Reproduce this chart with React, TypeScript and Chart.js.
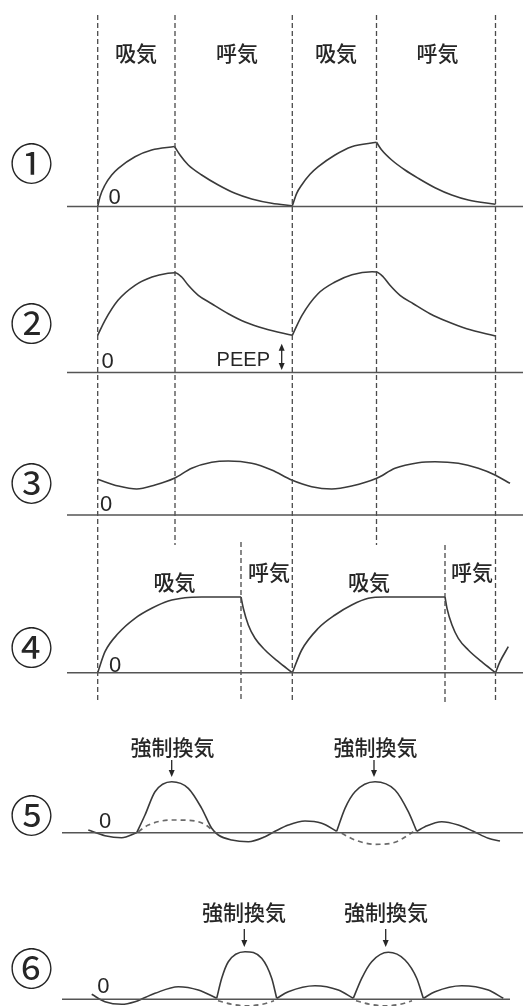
import React, { useEffect, useRef } from 'react';
import { Chart, registerables } from 'chart.js';

Chart.register(...registerables);

const W = 523;
const H = 1006;

// zero level of each trace (panel baseline)
const baseLevels = [206.5, 372.5, 515, 672.7, 832.7, 999.3];
const baseSpans = [
  [67, 523],
  [67, 523],
  [67, 523],
  [67, 523],
  [62, 523],
  [62, 510],
];

// ---- Panel 1 : volume-controlled, no PEEP ----
const p1Rise1T = [97.7, 100, 105, 111.7, 118.3, 135, 151.7, 174.5];
const p1Rise1V = [0, 9.8, 21.5, 31.5, 38.2, 49.8, 56.5, 60];
const p1Fall1T = [174.5, 180, 188.3, 201.7, 218.3, 235, 251.7, 271.7, 292.3];
const p1Fall1V = [60, 51.5, 41.5, 31.5, 21.5, 13.2, 7.5, 3.2, 0.8];
const p1Rise2T = [292.3, 296.7, 301.7, 310, 318.3, 335, 351.7, 376.5];
const p1Rise2V = [0.8, 13.2, 21.5, 32.2, 39.8, 51.5, 59.8, 64.2];
const p1Fall2T = [376.5, 381.7, 391.7, 405, 418.3, 435, 451.7, 468.3, 495.5];
const p1Fall2V = [64.2, 56.5, 46.5, 36.5, 28.2, 18.8, 11.5, 6.5, 2.2];

// ---- Panel 2 : with PEEP ----
const p2Cyc1T = [97.7, 105, 118, 135, 152, 168, 175, 181.7, 188.3, 198.3, 211.7, 228.3, 245, 265, 292.3];
const p2Cyc1V = [37.2, 52.2, 72.2, 87.2, 95.5, 99.3, 99.8, 95.5, 87.2, 77.2, 68.8, 58.8, 50.5, 43.8, 37.2];
const p2Cyc2T = [292.3, 302, 318, 335, 352, 372, 376.7, 383.3, 390, 400, 413.3, 430, 446.7, 466.7, 495.5];
const p2Cyc2V = [37.2, 57.2, 78.8, 90.5, 97.8, 100.8, 100.5, 95.5, 87.2, 77.2, 68.8, 58.8, 51.2, 43.8, 36.5];

// ---- Panel 3 : CPAP-like wave ----
const p3T = [97.7, 118.3, 136.7, 155, 174.3, 191.7, 211.7, 228.3, 251.7, 271.7, 291.7, 311.7, 331.7, 351.7, 376.7, 395, 418.3, 435, 458.3, 478.3, 495, 510];
const p3V = [35.7, 29, 26, 30, 36.7, 46.7, 52.7, 54, 51.7, 45, 35, 28.3, 26, 29, 36.7, 46.7, 52.3, 53.3, 51.7, 46.7, 40, 31.7];

// ---- Panel 4 : inspiratory plateau ----
const p4Rise1T = [97.7, 105, 118.3, 135, 151.7, 168.3, 185, 201.7, 241];
const p4Rise1V = [0, 21, 39.4, 54.4, 64.4, 71.7, 75, 75.7, 75.7];
const p4Fall1T = [241, 243.3, 248.3, 255, 265, 278.3, 292.3];
const p4Fall1V = [75.7, 64.4, 47.7, 34.4, 22.7, 11, 0];
const p4Rise2T = [292.3, 301.7, 318.3, 335, 351.7, 368.3, 385, 445];
const p4Rise2V = [0, 22.7, 44.4, 57.7, 67.7, 74.4, 75.7, 75.7];
const p4Fall2T = [445, 447, 452, 458.3, 468.3, 481.6, 495.5];
const p4Fall2V = [75.7, 64.4, 47.7, 34.4, 22.7, 11, 0];
const p4Rise3T = [495.5, 500, 508.3];
const p4Rise3V = [0, 11, 26];

// ---- Panel 5 : IMV ----
const p5aT = [88.3, 105, 121.7, 136.7];
const p5aV = [2.7, -3, -5, 0];
const p5bT = [136.7, 145, 155, 171.7, 188.3, 201.7, 211.7, 218.3, 231.7, 248.3, 265, 275, 288.3, 305, 321.7, 336.7];
const p5bV = [0, 17.7, 41, 51, 44.4, 24.4, 4.4, -2.3, -7.3, -9, -4, 1.4, 7.7, 11.7, 9.4, 1.4];
const p5cT = [336.7, 345, 355, 375, 395, 408.3, 416.7];
const p5cV = [1.4, 24.4, 41, 51, 42.7, 21, 1.4];
const p5dT = [416.7, 425, 441.7, 458.3, 473.3, 488.3, 500];
const p5dV = [1.4, 6, 11, 7.7, 1.4, -5.6, -8.3];
const p5Dash1T = [138.3, 148.3, 171.7, 195, 208.3, 211.7];
const p5Dash1V = [1, 7.7, 12.7, 11.7, 6, 2.7];
const p5Dash2T = [341.7, 355, 375, 395, 408.3, 413.3];
const p5Dash2V = [-0.6, -7.3, -11.6, -9.6, -2.3, 1];

// ---- Panel 6 : SIMV ----
const p6aT = [91.7, 105, 121.7, 135, 143.3, 155, 178.3, 198.3, 216.7];
const p6aV = [5, -2.4, -5, -2.4, 1, 6, 12.6, 9.3, 1];
const p6bT = [216.7, 221.7, 228.3, 245, 261.7, 271.7, 276.7];
const p6bV = [1, 21, 37.6, 47.6, 41, 21, 1];
const p6cT = [276.7, 288.3, 315, 338.3, 353.3];
const p6cV = [1, 7.6, 13.6, 9.3, 1];
const p6dT = [353.3, 361.7, 371.7, 388.3, 405, 416.7, 423.3];
const p6dV = [1, 21, 37.6, 47, 39.3, 21, 1];
const p6eT = [423.3, 435, 461.7, 488.3, 503.3];
const p6eV = [1, 7.6, 13.6, 9.3, 1];
const p6Dash1T = [218, 232, 247, 262, 274];
const p6Dash1V = [-1.5, -5, -6.5, -5, -1.5];
const p6Dash2T = [356, 370, 385, 400, 412];
const p6Dash2V = [-1.5, -5, -6.5, -5, -1.5];

// vertical phase guides: time, top, bottom
const guideT = [97.7, 175, 292.3, 376.5, 495.5, 241, 445];
const guideTop = [15, 15, 15, 15, 15, 542, 545];
const guideBottom = [702, 545, 702, 545, 702, 702, 702];

// annotations
const phaseLabels = [
  { text: '吸気', x: 136, y: 53 },
  { text: '呼気', x: 237, y: 53 },
  { text: '吸気', x: 336, y: 53 },
  { text: '呼気', x: 437.5, y: 53 },
  { text: '吸気', x: 174.5, y: 582 },
  { text: '呼気', x: 269, y: 572 },
  { text: '吸気', x: 369, y: 582 },
  { text: '呼気', x: 472, y: 572 },
  { text: '強制換気', x: 172.5, y: 747.5 },
  { text: '強制換気', x: 375.5, y: 747.5 },
  { text: '強制換気', x: 244, y: 912 },
  { text: '強制換気', x: 386, y: 912 },
];
const downArrows = [
  { x: 171.7, y0: 760, y1: 777 },
  { x: 374, y0: 760, y1: 777 },
  { x: 244.3, y0: 929, y1: 947 },
  { x: 385.7, y0: 929, y1: 947 },
];
const panelNumbers = ['①', '②', '③', '④', '⑤', '⑥'];
const panelNumberY = [163.3, 324, 484, 648, 816, 969];
const zeroX = [114.7, 107.5, 106, 115, 105, 103.3];
const zeroY = [204.3, 368, 510.7, 671.7, 828.3, 993.3];

const LINE = '#3a3a3a';
const TEXT = '#262626';

function curve(t: number[], v: number[], panel: number, dashed = false) {
  return {
    data: t.map((x, i) => ({ x, y: baseLevels[panel] - v[i] })),
    borderColor: dashed ? '#6a6a6a' : LINE,
    borderWidth: dashed ? 1.7 : 1.6,
    borderDash: dashed ? [5, 4] : [],
    pointRadius: 0,
    cubicInterpolationMode: 'monotone' as const,
    fill: false,
  };
}

const annotationPlugin = {
  id: 'annotations',
  afterDatasetsDraw(chart: any) {
    const ctx = chart.ctx as CanvasRenderingContext2D;
    const xs = chart.scales.x;
    const ys = chart.scales.y;
    const px = (v: number) => xs.getPixelForValue(v);
    const py = (v: number) => ys.getPixelForValue(v);
    ctx.save();
    ctx.fillStyle = TEXT;
    ctx.textAlign = 'center';
    ctx.textBaseline = 'middle';
    ctx.font = '500 21px "Noto Sans CJK JP", sans-serif';
    phaseLabels.forEach((l) => ctx.fillText(l.text, px(l.x), py(l.y)));

    ctx.font = '43px "Noto Sans CJK JP", sans-serif';
    panelNumbers.forEach((n, i) => ctx.fillText(n, px(31.5), py(panelNumberY[i])));

    ctx.textBaseline = 'alphabetic';
    ctx.font = '22px "Liberation Sans", Arial, sans-serif';
    zeroX.forEach((x, i) => ctx.fillText('0', px(x), py(zeroY[i])));

    ctx.font = '20px "Liberation Sans", Arial, sans-serif';
    ctx.fillText('PEEP', px(243.3), py(366));

    // arrows
    ctx.strokeStyle = TEXT;
    ctx.lineWidth = 1.3;
    const head = (x: number, y: number, dir: number) => {
      ctx.beginPath();
      ctx.moveTo(x, y);
      ctx.lineTo(x - 3, y - dir * 7);
      ctx.lineTo(x + 3, y - dir * 7);
      ctx.closePath();
      ctx.fill();
    };
    downArrows.forEach((a) => {
      ctx.beginPath();
      ctx.moveTo(px(a.x), py(a.y0));
      ctx.lineTo(px(a.x), py(a.y1) - 5);
      ctx.stroke();
      head(px(a.x), py(a.y1), 1);
    });
    // PEEP double arrow
    const ax = px(281.7);
    ctx.beginPath();
    ctx.moveTo(ax, py(343.7) + 5);
    ctx.lineTo(ax, py(370) - 5);
    ctx.stroke();
    head(ax, py(370), 1);
    head(ax, py(343.7), -1);
    ctx.restore();
  },
};

export default function App() {
  const ref = useRef<HTMLCanvasElement | null>(null);
  useEffect(() => {
    if (!ref.current) return;
    const datasets: any[] = [];
    // baselines
    baseLevels.forEach((b, i) => {
      datasets.push({
        data: [
          { x: baseSpans[i][0], y: b },
          { x: baseSpans[i][1], y: b },
        ],
        borderColor: '#555',
        borderWidth: 1.4,
        pointRadius: 0,
      });
    });
    // guides
    guideT.forEach((t, i) => {
      datasets.push({
        data: [
          { x: t, y: guideTop[i] },
          { x: t, y: guideBottom[i] },
        ],
        borderColor: '#4a4a4a',
        borderWidth: 1.3,
        borderDash: [5, 3],
        pointRadius: 0,
      });
    });
    datasets.push(
      curve(p1Rise1T, p1Rise1V, 0),
      curve(p1Fall1T, p1Fall1V, 0),
      curve(p1Rise2T, p1Rise2V, 0),
      curve(p1Fall2T, p1Fall2V, 0),
      curve(p2Cyc1T, p2Cyc1V, 1),
      curve(p2Cyc2T, p2Cyc2V, 1),
      curve(p3T, p3V, 2),
      curve(p4Rise1T, p4Rise1V, 3),
      curve(p4Fall1T, p4Fall1V, 3),
      curve(p4Rise2T, p4Rise2V, 3),
      curve(p4Fall2T, p4Fall2V, 3),
      curve(p4Rise3T, p4Rise3V, 3),
      curve(p5aT, p5aV, 4),
      curve(p5bT, p5bV, 4),
      curve(p5cT, p5cV, 4),
      curve(p5dT, p5dV, 4),
      curve(p5Dash1T, p5Dash1V, 4, true),
      curve(p5Dash2T, p5Dash2V, 4, true),
      curve(p6aT, p6aV, 5),
      curve(p6bT, p6bV, 5),
      curve(p6cT, p6cV, 5),
      curve(p6dT, p6dV, 5),
      curve(p6eT, p6eV, 5),
      curve(p6Dash1T, p6Dash1V, 5, true),
      curve(p6Dash2T, p6Dash2V, 5, true)
    );
    const chart = new Chart(ref.current, {
      type: 'line',
      data: { datasets },
      options: {
        responsive: false,
        animation: false,
        layout: { padding: 0 },
        plugins: { legend: { display: false }, tooltip: { enabled: false } },
        scales: {
          x: { type: 'linear', min: 0, max: W, display: false },
          y: { type: 'linear', min: 0, max: H, reverse: true, display: false },
        },
      },
      plugins: [annotationPlugin],
    });
    return () => chart.destroy();
  }, []);
  return (
    <div style={{ position: 'fixed', left: 0, top: 0, width: W, height: H, background: '#fff' }}>
      <canvas ref={ref} width={W} height={H} style={{ display: 'block' }} />
    </div>
  );
}
